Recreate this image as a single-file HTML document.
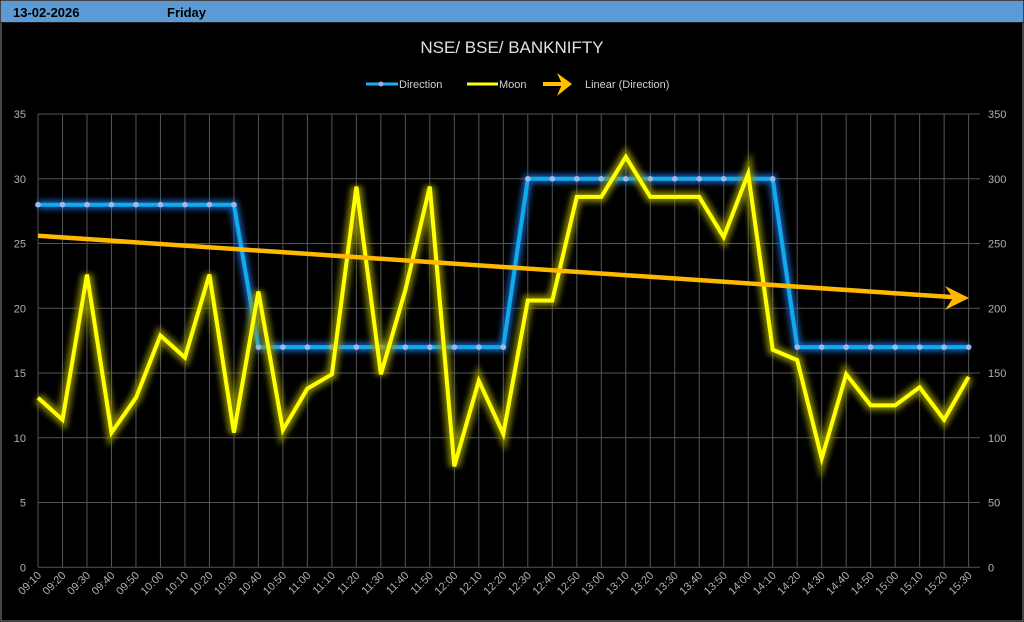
<!DOCTYPE html>
<html><head><meta charset="utf-8"><style>
html,body{margin:0;padding:0;background:#000;}
svg{display:block;font-family:"Liberation Sans",sans-serif;}
</style></head><body>
<svg id="s" width="1024" height="622" viewBox="0 0 1024 622" xmlns="http://www.w3.org/2000/svg">
<defs>
<filter id="gb" x="-10%" y="-10%" width="120%" height="120%"><feGaussianBlur stdDeviation="3"/></filter>
</defs>
<rect x="0" y="0" width="1024" height="622" fill="#000"/>
<rect x="1" y="1" width="1022" height="620" fill="none" stroke="#888" stroke-width="1"/>
<rect x="1" y="1" width="1022" height="21" fill="#5b9bd5"/>
<line x1="0" y1="22.5" x2="1024" y2="22.5" stroke="#222" stroke-width="1"/>
<text x="13" y="17" font-size="13" font-weight="bold" fill="#000">13-02-2026</text>
<text x="167" y="17" font-size="13" font-weight="bold" fill="#000">Friday</text>
<text x="512" y="53" font-size="17" fill="#e0e0e0" text-anchor="middle">NSE/ BSE/ BANKNIFTY</text>
<g id="legend" font-size="11" fill="#d0d0d0">
<line x1="366" y1="84" x2="398" y2="84" stroke="#1fb0f0" stroke-width="3"/>
<circle cx="381" cy="84" r="2.5" fill="#a0b0e0"/>
<text x="399" y="88">Direction</text>
<line x1="467" y1="84" x2="498" y2="84" stroke="#ffff00" stroke-width="3"/>
<text x="499" y="88">Moon</text>
<line x1="543" y1="84" x2="565" y2="84" stroke="#ffc000" stroke-width="4"/>
<path d="M557,73 L572,84 L557,96 L562,84 Z" fill="#ffc000"/>
<text x="585" y="88">Linear (Direction)</text>
</g>
<g id="grid" stroke="#555" stroke-width="1"></g>
<g id="labels" font-size="11" fill="#b0b0b0"></g>
<g id="series"></g>
</svg>
<script>
var X0=38,DX=24.49,Y0=567.3,K=12.95;
function px(i){return X0+i*DX;}function py(v){return Y0-v*K;}
var ns="http://www.w3.org/2000/svg";
function el(p,t,a,txt){var e=document.createElementNS(ns,t);for(var k in a)e.setAttribute(k,a[k]);if(txt!=null)e.textContent=txt;p.appendChild(e);return e;}
var g=document.getElementById('grid'),L=document.getElementById('labels'),S=document.getElementById('series');
for(var v=0;v<=35;v+=5){var y=py(v);el(g,'line',{x1:X0,y1:y,x2:980,y2:y});
el(L,'text',{x:26,y:y+4,'text-anchor':'end'},v);el(L,'text',{x:988,y:y+4},v*10);}
var times=[];for(var i=0;i<39;i++){var m=9*60+10+i*10;var h=Math.floor(m/60),mm=m%60;times.push((h<10?'0':'')+h+':'+(mm<10?'0':'')+mm);}
for(var i=0;i<39;i++){var x=px(i);el(g,'line',{x1:x,y1:py(35),x2:x,y2:Y0});
el(L,'text',{x:x+4,y:576,'text-anchor':'end',transform:'rotate(-45 '+(x+4)+' 576)'},times[i]);}
var dir=[];for(var i=0;i<39;i++)dir.push(i<=8?28:i<=19?17:i<=30?30:17);
var moon=[13.1,11.4,22.6,10.4,13.1,17.9,16.2,22.6,10.4,21.3,10.6,13.8,14.9,29.4,14.9,21.4,29.4,7.8,14.4,10.3,20.6,20.6,28.6,28.6,31.7,28.6,28.6,28.6,25.5,30.4,16.8,16.0,8.4,14.9,12.5,12.5,13.9,11.4,14.7];
function pts(a){return a.map(function(v,i){return px(i).toFixed(1)+','+py(v).toFixed(1);}).join(' ');}
el(S,'polyline',{points:pts(dir),fill:'none',stroke:'#1a6fd0','stroke-width':9,filter:'url(#gb)',opacity:0.8});
el(S,'polyline',{points:pts(dir),fill:'none',stroke:'#10aaee','stroke-width':4,'stroke-linejoin':'round'});
for(var i=0;i<39;i++)el(S,'circle',{cx:px(i),cy:py(dir[i]),r:2.8,fill:'#a8b4e8'});
el(S,'polyline',{points:pts(moon),fill:'none',stroke:'#9a9a00','stroke-width':11,filter:'url(#gb)',opacity:0.8});
el(S,'polyline',{points:pts(moon),fill:'none',stroke:'#ffff00','stroke-width':4,'stroke-linejoin':'miter'});
var y1=py(25.6),y2=py(20.8);
el(S,'line',{x1:X0,y1:y1,x2:955,y2:y2+0.8*(y1-y2)/930*13,stroke:'#ffb800','stroke-width':4.5});
el(S,'path',{d:'M945,286 L969,298 L945,310 L953,298 Z',fill:'#ffb800'});
</script>
</body></html>
